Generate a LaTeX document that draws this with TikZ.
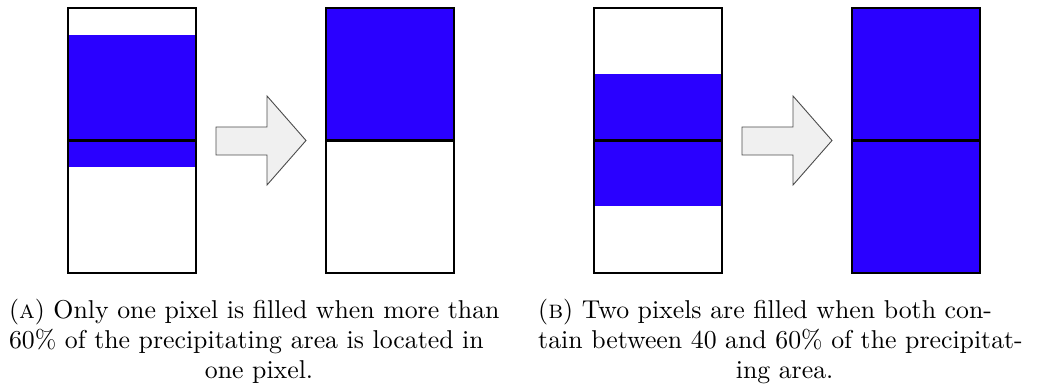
\documentclass[tikz,border=0pt]{standalone}
\usepackage{tikz}
\definecolor{rainblue}{RGB}{42,0,255}
\definecolor{arrowfill}{RGB}{240,240,240}
\begin{document}
\begin{tikzpicture}[x=0.3876pt,y=-0.3876pt,line width=0.9pt]
		\newcommand{\pixcol}[4]{\coordinate (#1) at (#2,8);
			\fill[rainblue,shift={(#1)}] (0,#3-8) rectangle (128,#4-8);
			\draw[shift={(#1)}] (0,0) rectangle (128,265) (0,132.5)--(128,132.5);}
		\newcommand{\fatarrow}[2]{\coordinate (#1) at (#2,140.5);
			\draw[shift={(#1)},fill=arrowfill,draw=black!70,line width=0.35pt] (0,-13.5)--(51,-13.5)--(51,-44.5)--(90,0)--(51,44.5)--(51,14.5)--(0,14.5)--cycle;}
		\newcommand{\fullline}[2]{\makebox[#1][s]{#2}}
		
		\useasboundingbox (0,0) rectangle (1043,390);
		
		\pixcol{P1}{68}{35}{167}    \fatarrow{R1}{216}
		\pixcol{P2}{326}{8}{140.5}
		\pixcol{P3}{594}{74}{206}   \fatarrow{R2}{742}
		\pixcol{P4}{852}{8}{273}
		
		\node[anchor=north,inner sep=0pt,text width=193.8pt,align=center,font=\fontsize{10}{11.6}\selectfont] (capA) at (259,298)
		{\fullline{193.8pt}{(\textsc{a}) Only one pixel is filled when more than}\\
			\fullline{193.8pt}{60\% of the precipitating area is located in}\\
			one pixel.};
		\node[anchor=north,inner sep=0pt,text width=191pt,align=center,font=\fontsize{10}{11.6}\selectfont] (capB) at (784.6,298)
		{\fullline{191pt}{(\textsc{b}) Two pixels are filled when both con-}\\
			\fullline{191pt}{tain between 40 and 60\% of the precipitat-}\\
			ing area.};
	\end{tikzpicture}
\end{document}
